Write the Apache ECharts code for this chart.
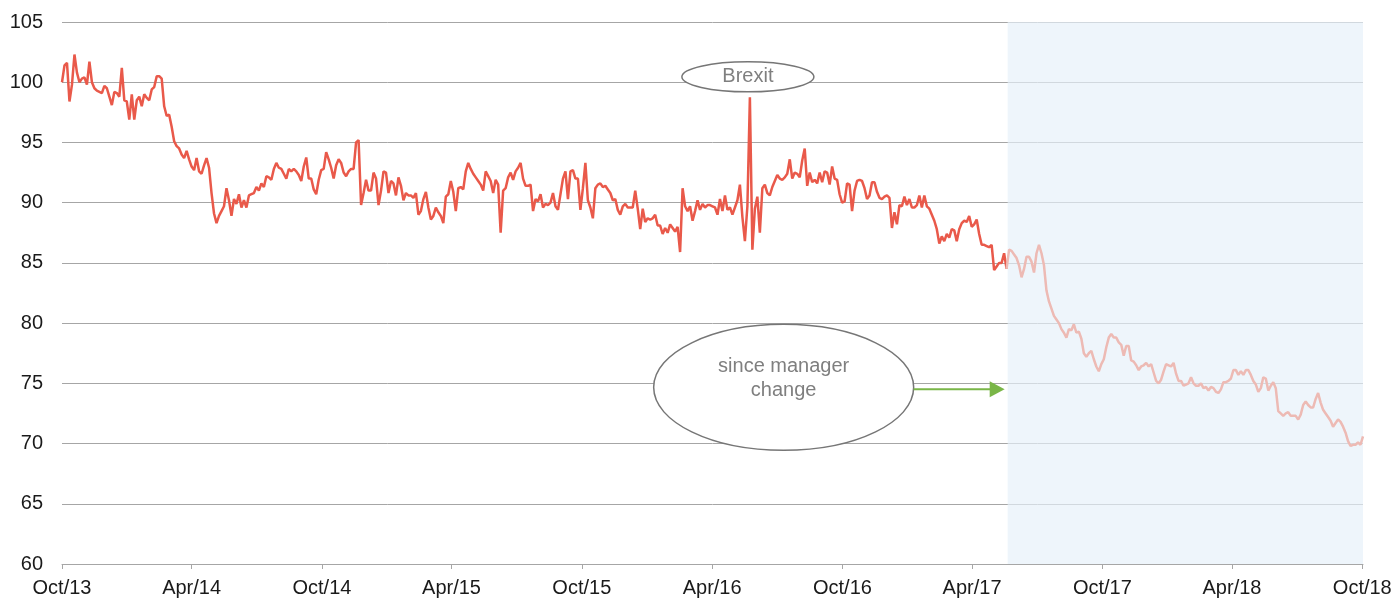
<!DOCTYPE html>
<html>
<head>
<meta charset="utf-8">
<script src="https://cdn.jsdelivr.net/npm/echarts@6/dist/echarts.min.js"></script>
<style>
html, body { margin: 0; padding: 0; background: #fff; }
#main { width: 1396px; height: 598px; }
</style>
</head>
<body>
<div id="main"></div>
<script>
// index values, one every half week from 1 Oct 2013
var startDate = '2013-10-01';
var stepDays = 3.5;
var values = [
    100.0,101.4,101.6,98.4,99.8,102.3,100.8,100.0,100.3,100.4,
    99.8,101.7,100.0,99.5,99.3,99.2,99.1,99.7,99.5,98.8,
    98.1,99.2,99.1,98.8,101.2,98.5,98.4,96.9,99.0,96.9,
    98.5,98.8,98.0,99.0,98.7,98.5,99.4,99.6,100.5,100.5,
    100.3,98.0,97.2,97.3,96.3,95.1,94.7,94.5,94.0,93.7,
    94.3,93.6,93.0,92.7,93.7,92.6,92.4,93.1,93.7,92.9,
    90.8,89.1,88.3,88.9,89.3,89.7,91.2,90.2,88.9,90.3,
    89.9,90.7,89.6,90.2,89.6,90.6,90.7,90.8,91.3,91.0,
    91.6,91.3,92.2,92.1,91.9,92.8,93.3,92.9,92.8,92.4,
    92.0,92.8,92.6,92.8,92.6,92.3,91.8,93.0,93.75,92.0,
    92.0,91.1,90.7,91.9,92.7,92.8,94.2,93.6,92.9,92.0,
    93.1,93.6,93.3,92.5,92.2,92.6,92.8,92.8,95.0,95.2,
    89.8,90.8,91.9,91.0,91.0,92.5,92.0,89.8,91.0,92.6,
    92.5,90.8,91.8,91.6,90.6,92.1,91.4,90.2,90.8,90.6,
    90.6,90.4,90.8,89.0,89.3,90.3,90.9,89.6,88.6,88.9,
    89.6,89.2,88.9,88.3,90.5,90.7,91.8,90.9,89.3,91.2,
    91.3,91.1,92.6,93.3,92.8,92.4,92.1,91.8,91.5,91.0,
    92.6,92.2,91.8,90.8,91.9,91.5,87.5,91.0,91.2,92.1,
    92.5,91.9,92.6,92.9,93.3,92.0,91.4,91.4,91.5,89.3,
    90.3,90.1,90.7,89.6,89.9,89.8,90.0,90.8,89.7,89.4,
    90.7,92.0,92.6,90.3,92.6,92.7,92.0,92.0,89.4,91.2,
    93.3,90.2,89.6,88.7,91.2,91.5,91.6,91.3,91.4,91.1,
    90.8,90.2,90.3,89.4,89.0,89.7,89.9,89.6,89.6,89.6,
    91.0,89.5,87.8,89.5,88.4,88.7,88.6,88.7,89.0,88.1,
    88.1,87.4,87.9,87.5,88.2,87.9,87.6,88.0,85.9,91.2,
    89.7,89.3,89.7,88.5,89.3,90.2,89.4,89.9,89.6,89.8,
    89.8,89.7,89.6,89.0,90.3,89.3,90.6,89.4,89.6,89.0,
    89.6,90.2,91.5,88.8,86.8,89.7,98.75,86.1,89.5,90.5,
    87.5,91.2,91.5,90.8,90.6,91.3,91.8,92.3,92.0,91.9,
    92.1,92.4,93.6,92.0,92.5,92.4,92.1,93.5,94.5,91.4,
    92.5,91.7,91.9,91.6,92.5,91.7,92.6,92.5,91.5,93.0,
    92.0,91.9,90.7,90.0,90.1,91.6,91.5,89.3,91.0,91.8,
    91.9,91.8,91.2,90.3,90.6,91.7,91.7,90.9,90.4,90.3,
    90.5,90.6,90.4,87.9,89.2,88.2,89.8,89.7,90.5,89.8,
    90.3,89.6,89.6,89.8,90.6,89.6,90.6,89.7,89.5,89.0,
    88.5,87.8,86.6,87.2,86.8,87.4,87.1,87.8,87.7,86.8,
    87.8,88.3,88.5,88.4,88.9,88.0,88.2,88.6,87.4,86.5,
    86.5,86.4,86.3,86.5,84.4,84.7,85.0,85.0,85.8,84.5,
    86.1,86.0,85.7,85.4,84.8,83.8,84.5,85.5,85.5,85.1,
    84.2,85.8,86.5,85.8,84.8,82.7,81.8,81.2,80.6,80.3,
    80.0,79.5,79.2,78.8,79.5,79.4,79.9,79.2,79.3,78.7,
    77.5,77.2,77.5,77.7,77.0,76.4,76.0,76.6,77.0,78.0,
    78.8,79.1,78.8,78.8,78.4,78.2,77.3,78.1,78.1,76.9,
    76.8,76.5,76.1,76.4,76.5,76.7,76.4,76.6,75.9,75.2,
    75.0,75.3,76.0,76.6,76.5,76.4,76.7,75.8,75.2,75.2,
    74.8,74.9,75.0,75.5,75.0,74.8,74.8,75.0,74.6,74.7,
    74.4,74.7,74.6,74.3,74.2,74.5,75.1,75.1,75.2,75.4,
    76.1,76.1,75.7,76.0,75.7,76.1,76.1,75.7,75.2,74.9,
    74.3,74.6,75.5,75.4,74.4,74.8,75.1,74.6,72.7,72.5,
    72.3,72.5,72.6,72.3,72.3,72.3,72.0,72.4,73.2,73.5,
    73.2,73.0,73.0,73.7,74.2,73.4,72.8,72.5,72.2,71.9,
    71.4,71.7,72.0,71.8,71.4,70.9,70.2,69.8,69.9,69.9,
    70.1,69.9,70.6
];
var managerChangeIndex = 379;   // last point under the old manager
var brexitIndex = 276;
var shadeStart = '2017-05-21';
var tickDates = ['2013-10-01','2014-04-01','2014-10-01','2015-04-01','2015-10-01','2016-04-01',
                 '2016-10-01','2017-04-01','2017-10-01','2018-04-01','2018-10-01'];
var tickLabels = ['Oct/13','Apr/14','Oct/14','Apr/15','Oct/15','Apr/16',
                  'Oct/16','Apr/17','Oct/17','Apr/18','Oct/18'];

var DAY = 86400000;
function utc(d) { return Date.parse(d + 'T00:00:00Z'); }
var t0 = utc(startDate);
var points = values.map(function (v, i) { return [t0 + i * stepDays * DAY, v]; });
var before = points.slice(0, managerChangeIndex + 1);
var after = points.slice(managerChangeIndex);
var tickTimes = tickDates.map(utc);
var tEnd = points[points.length - 1][0];
var shadeTime = utc(shadeStart);

var fontFam = 'Arial, "Liberation Sans", sans-serif';
var gridCol = '#a6a6a6';

var chart = echarts.init(document.getElementById('main'));
var option = {
    animation: false,
    grid: { left: 62, right: 33, top: 22, bottom: 33, containLabel: false },
    xAxis: {
        type: 'value',
        min: t0,
        max: tEnd,
        axisLine: { lineStyle: { color: gridCol, width: 1 } },
        axisTick: { show: true, length: 5, lineStyle: { color: gridCol }, customValues: tickTimes },
        axisLabel: {
            customValues: tickTimes,
            margin: 14,
            fontSize: 20,
            fontFamily: fontFam,
            color: '#1a1a1a',
            hideOverlap: false,
            formatter: function (val) {
                var best = 0;
                for (var i = 0; i < tickTimes.length; i++) {
                    if (Math.abs(tickTimes[i] - val) < Math.abs(tickTimes[best] - val)) best = i;
                }
                return tickLabels[best];
            }
        },
        splitLine: { show: false }
    },
    yAxis: {
        type: 'value',
        min: 60,
        max: 105,
        interval: 5,
        axisLine: { show: false },
        axisTick: { show: false },
        axisLabel: { fontSize: 20, fontFamily: fontFam, color: '#1a1a1a', margin: 19 },
        splitLine: { lineStyle: { color: gridCol, width: 1 } }
    },
    series: [
        {
            name: 'before',
            type: 'line',
            data: before,
            showSymbol: false,
            z: 3,
            lineStyle: { color: '#E9594A', width: 2.5 }
        },
        {
            name: 'after',
            type: 'line',
            data: after,
            showSymbol: false,
            z: 3,
            lineStyle: { color: '#EDBAB4', width: 2.5 },
            markArea: {
                silent: true,
                itemStyle: { color: 'rgba(230,240,249,0.68)' },
                data: [[{ xAxis: shadeTime }, { xAxis: tEnd }]]
            }
        }
    ]
};
chart.setOption(option);

// annotations
var bp = chart.convertToPixel({ gridIndex: 0 }, [points[brexitIndex][0], 100.45]);
var ap = chart.convertToPixel({ gridIndex: 0 }, [shadeTime, 74.5]);
var ax = ap[0] - 3, ay = ap[1];
var ecx = ax - 221, ecy = ay - 2;

chart.setOption({
    graphic: [
        {
            type: 'ellipse',
            shape: { cx: bp[0] - 2, cy: bp[1], rx: 66, ry: 15 },
            style: { fill: '#fff', stroke: '#767676', lineWidth: 1.5 },
            z: 10
        },
        {
            type: 'text',
            x: bp[0] - 2, y: bp[1],
            style: { text: 'Brexit', fill: '#7f7f7f', fontSize: 20, fontFamily: fontFam, align: 'center', verticalAlign: 'middle' },
            z: 11
        },
        {
            type: 'ellipse',
            shape: { cx: ecx, cy: ecy, rx: 130, ry: 63 },
            style: { fill: '#fff', stroke: '#767676', lineWidth: 1.5 },
            z: 10
        },
        {
            type: 'text',
            x: ecx, y: ecy - 9,
            style: { text: 'since manager\nchange', fill: '#7f7f7f', fontSize: 20, lineHeight: 24, fontFamily: fontFam, align: 'center', verticalAlign: 'middle' },
            z: 11
        },
        {
            type: 'line',
            shape: { x1: ecx + 130, y1: ay, x2: ax - 14, y2: ay },
            style: { stroke: '#7AB648', lineWidth: 2 },
            z: 10
        },
        {
            type: 'polygon',
            shape: { points: [[ax - 15, ay - 8], [ax - 15, ay + 8], [ax, ay]] },
            style: { fill: '#7AB648' },
            z: 10
        }
    ]
});
</script>
</body>
</html>
